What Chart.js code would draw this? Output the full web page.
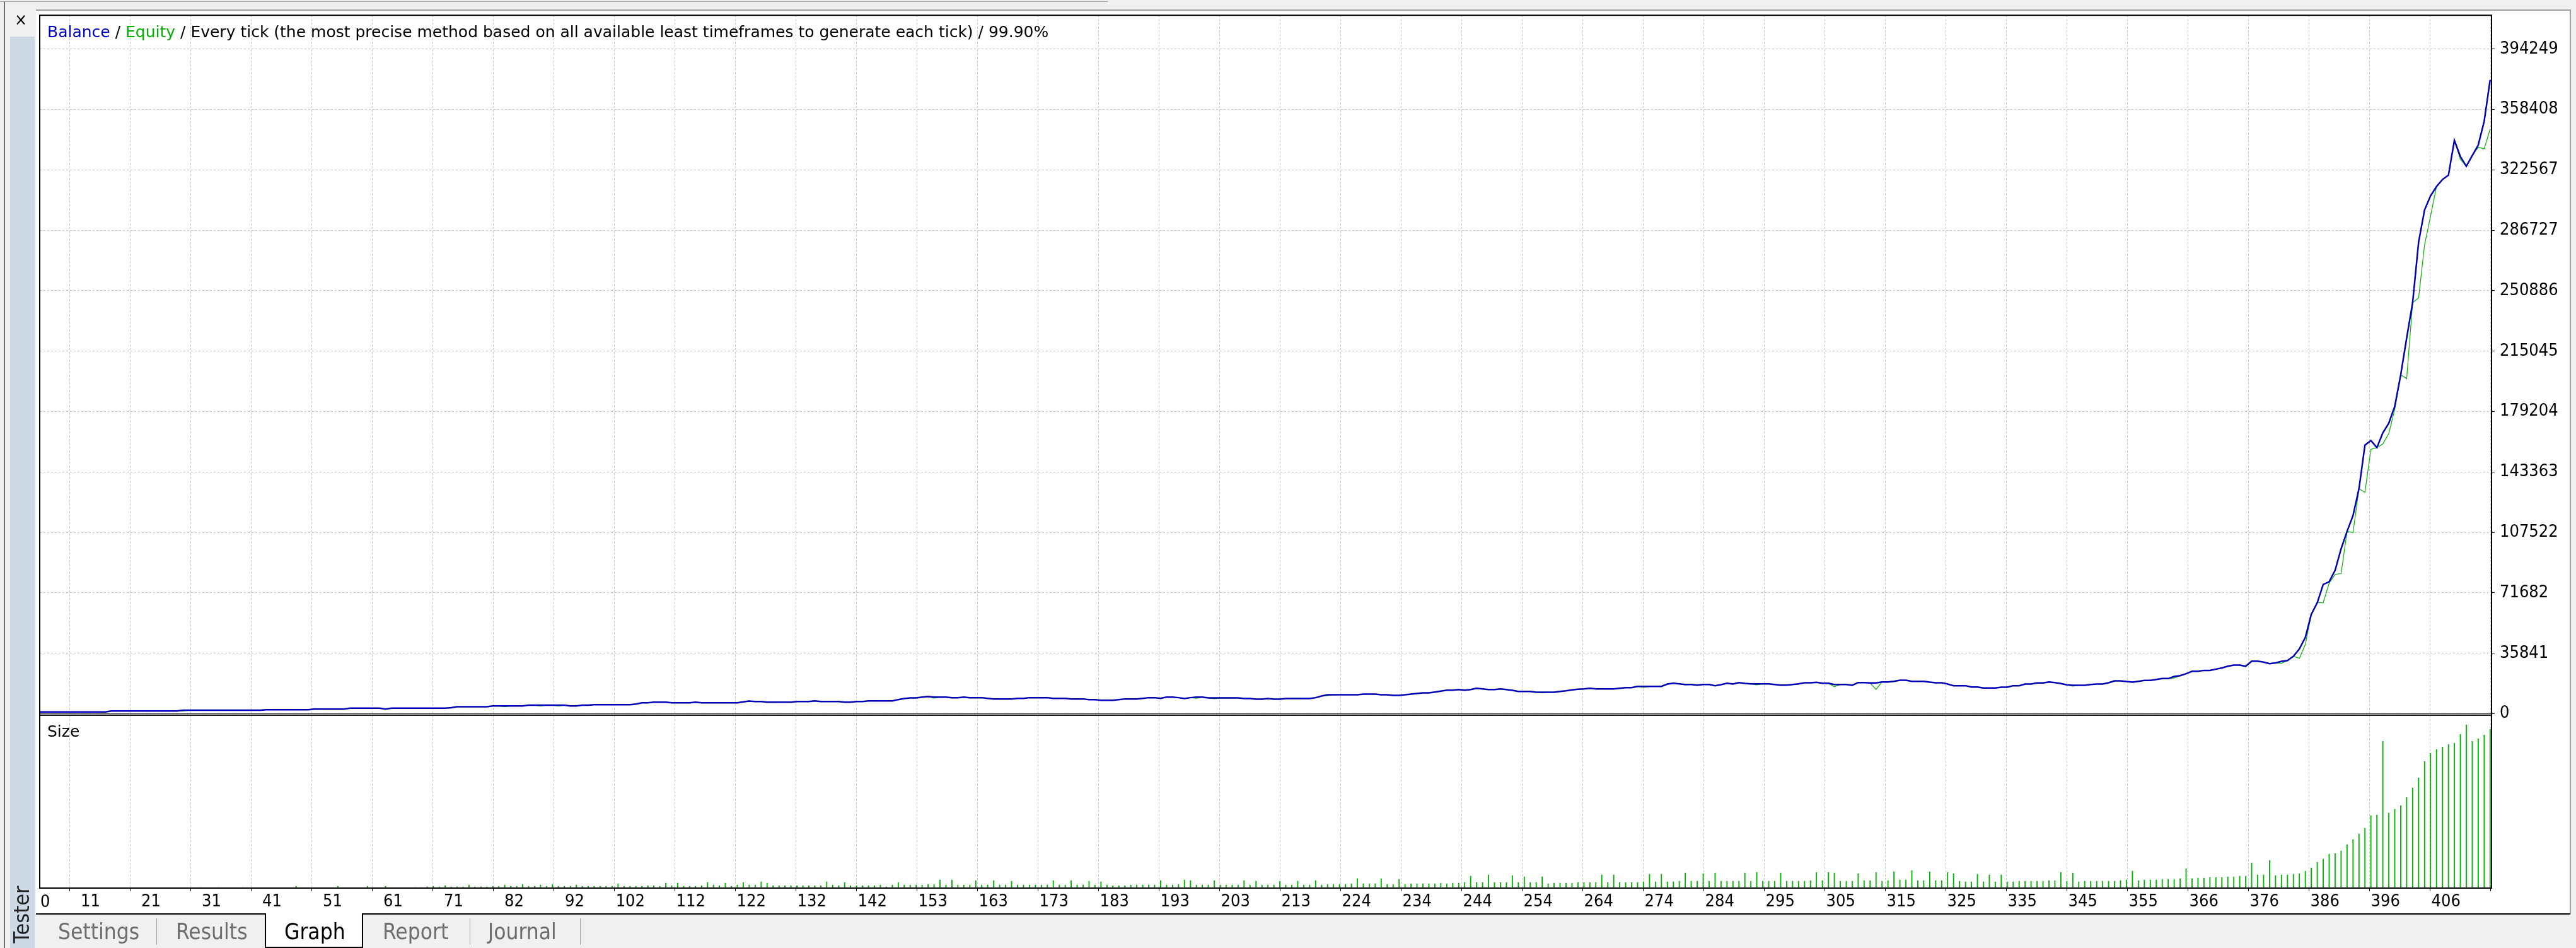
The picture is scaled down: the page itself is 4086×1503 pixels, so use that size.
<!DOCTYPE html>
<html>
<head>
<meta charset="utf-8">
<title>Tester - Graph</title>
<script src="https://cdn.jsdelivr.net/npm/chart.js@4.4.1/dist/chart.umd.min.js"></script>
<style>
  html, body { margin: 0; padding: 0; background: #f0f0f0; overflow: hidden; }
  canvas { display: block; }
</style>
</head>
<body>
<canvas id="graph" width="4086" height="1503"></canvas>
<script>
const FONT = "Tahoma, 'DejaVu Sans Condensed', 'Liberation Sans', sans-serif";
const TITLE_FONT = "Verdana, 'DejaVu Sans', sans-serif";

// balance after each trade, trade 0 = deposit
const balance = [
  1000, 1000, 1000, 1000, 1000, 1000, 1000, 1000, 1000, 1000,
  1000, 1000, 1600, 1600, 1600, 1600, 1600, 1600, 1600, 1600,
  1600, 1600, 1600, 1600, 2000, 2000, 2000, 2000, 2000, 2000,
  2000, 2000, 2000, 2000, 2000, 2000, 2000, 2000, 2350, 2350,
  2350, 2350, 2350, 2350, 2350, 2350, 2700, 2700, 2700, 2700,
  2700, 2700, 3250, 3250, 3250, 3250, 3250, 3250, 2700, 3250,
  3250, 3250, 3250, 3250, 3250, 3250, 3250, 3250, 3250, 3500,
  4100, 4100, 4100, 4100, 4100, 4100, 4600, 4600, 4600, 4600,
  4600, 4600, 5000, 5000, 5000, 5000, 5000, 5000, 5000, 4600,
  4600, 5000, 5000, 5300, 5300, 5300, 5300, 5300, 5300, 5300,
  5720, 6460, 6460, 6840, 6840, 6840, 6460, 6460, 6460, 6460,
  6840, 6460, 6460, 6460, 6460, 6460, 6460, 6460, 6990, 7470,
  7220, 7220, 6840, 6840, 6840, 6840, 6840, 7220, 7220, 7220,
  7590, 7220, 7220, 7220, 7220, 6840, 6840, 7220, 7220, 7590,
  7590, 7590, 7590, 7590, 8340, 8970, 9340, 9340, 9840, 10200,
  9840, 9840, 9840, 9470, 9470, 9840, 9470, 9470, 9470, 9090,
  8720, 8720, 8720, 8720, 9090, 9090, 9470, 9470, 9470, 9470,
  9090, 9090, 9090, 8720, 8720, 8720, 8340, 8340, 7970, 7970,
  7970, 8340, 8720, 8720, 8720, 9090, 9470, 9470, 9030, 9840,
  9840, 9470, 8970, 9470, 9840, 9840, 9340, 9340, 9340, 9340,
  9340, 9340, 8970, 8970, 8600, 8600, 8970, 8600, 8600, 8970,
  8970, 8970, 8970, 8970, 9470, 10460, 11210, 11210, 11210, 11210,
  11210, 11210, 11580, 11580, 11580, 11210, 11210, 10840, 10840, 11210,
  11580, 11960, 12330, 12330, 12820, 13340, 13940, 13940, 14310, 13940,
  14310, 15060, 14700, 14310, 14310, 14700, 14310, 13820, 13200, 13200,
  13200, 12700, 12700, 12700, 12700, 13200, 13570, 14070, 14440, 14700,
  15060, 14700, 14700, 14700, 14700, 15060, 15440, 15440, 16190, 16190,
  16190, 16190, 16190, 17560, 18060, 17680, 17310, 17310, 16930, 17310,
  17310, 16570, 17190, 18060, 17560, 18430, 17940, 17680, 17680, 17680,
  17680, 17310, 16930, 16930, 17310, 17680, 18310, 18310, 18560, 18060,
  18060, 17310, 17310, 17310, 16810, 18430, 18430, 18190, 18190, 18810,
  18810, 19180, 19810, 19810, 19180, 19180, 19180, 18680, 18310, 18310,
  17560, 16570, 16570, 16570, 15810, 15810, 15190, 15190, 15190, 15690,
  15690, 16570, 16570, 17560, 17560, 18190, 18190, 18810, 18430, 17810,
  17060, 16810, 16810, 16810, 17310, 17560, 17560, 18310, 19430, 19430,
  19060, 18680, 19180, 19680, 19680, 20310, 20810, 20810, 22050, 22500,
  23700, 25100, 25100, 25650, 25650, 26400, 27100, 28100, 28780, 28780,
  28100, 31080, 31080, 30580, 29640, 30100, 31000, 31500, 34010, 38370,
  45220, 58920, 65770, 76610, 78220, 85090, 97800, 108150, 117490, 133400,
  159250, 162000, 157800, 166500, 172300, 182300, 201000, 222870, 243800, 279680,
  298810, 307140, 312640, 316820, 319330, 340030, 330500, 324670, 331020, 337190,
  351350, 375930
];

// trades where equity fell below balance, and the equity read there
const equityTrades = [24, 78, 84, 87, 150, 194, 197, 216, 252, 269, 276, 288, 301, 308, 341, 358, 376,
  379, 380, 383, 384, 385, 386, 388, 390, 391, 393, 394, 395, 397, 399, 400, 401, 406, 409, 410, 411];
const equityValues = [1500, 4100, 4470, 4470, 9230, 9100, 8850, 10710, 12330, 15560, 17060, 17060, 15940, 14320, 16320, 21180, 29880,
  32770, 41000, 65770, 77500, 82590, 83110, 107400, 131320, 156730, 160000, 166200, 180500, 198700, 246600, 277960, 295150, 328860, 336000, 335020, 346680];

// lot size of each trade
const sizes = [
  0.004, 0.004, 0.004, 0.004, 0.004, 0.004, 0.004, 0.004, 0.004, 0.004,
  0.004, 0.004, 0.004, 0.004, 0.004, 0.004, 0.004, 0.004, 0.004, 0.004,
  0.004, 0.004, 0.004, 0.004, 0.004, 0.004, 0.004, 0.01, 0.004, 0.004,
  0.01, 0.004, 0.004, 0.004, 0.01, 0.004, 0.004, 0.004, 0.004, 0.004,
  0.004, 0.004, 0.004, 0.03, 0.004, 0.004, 0.004, 0.004, 0.004, 0.004,
  0.03, 0.004, 0.004, 0.004, 0.004, 0.03, 0.004, 0.004, 0.03, 0.004,
  0.004, 0.004, 0.004, 0.01, 0.01, 0.02, 0.03, 0.02, 0.04, 0.02,
  0.02, 0.02, 0.05, 0.02, 0.02, 0.02, 0.03, 0.03, 0.05, 0.03,
  0.03, 0.06, 0.03, 0.03, 0.05, 0.03, 0.06, 0.03, 0.03, 0.03,
  0.05, 0.03, 0.03, 0.03, 0.03, 0.03, 0.03, 0.07, 0.03, 0.03,
  0.03, 0.03, 0.04, 0.04, 0.03, 0.08, 0.04, 0.08, 0.03, 0.03,
  0.03, 0.04, 0.09, 0.05, 0.04, 0.08, 0.03, 0.05, 0.09, 0.05,
  0.05, 0.10, 0.08, 0.04, 0.04, 0.04, 0.04, 0.04, 0.04, 0.04,
  0.04, 0.04, 0.10, 0.05, 0.04, 0.09, 0.04, 0.04, 0.04, 0.04,
  0.04, 0.05, 0.02, 0.05, 0.09, 0.05, 0.05, 0.05, 0.05, 0.06,
  0.06, 0.13, 0.05, 0.13, 0.05, 0.05, 0.05, 0.12, 0.05, 0.05,
  0.12, 0.05, 0.05, 0.11, 0.05, 0.05, 0.05, 0.05, 0.05, 0.05,
  0.12, 0.05, 0.05, 0.12, 0.05, 0.05, 0.11, 0.05, 0.10, 0.05,
  0.04, 0.04, 0.04, 0.05, 0.05, 0.05, 0.05, 0.05, 0.12, 0.05,
  0.05, 0.06, 0.13, 0.12, 0.05, 0.05, 0.05, 0.12, 0.05, 0.05,
  0.05, 0.05, 0.12, 0.05, 0.11, 0.05, 0.05, 0.05, 0.11, 0.05,
  0.05, 0.11, 0.05, 0.05, 0.12, 0.05, 0.06, 0.06, 0.06, 0.06,
  0.07, 0.15, 0.07, 0.07, 0.07, 0.15, 0.06, 0.06, 0.14, 0.06,
  0.07, 0.07, 0.07, 0.07, 0.07, 0.08, 0.07, 0.08, 0.08, 0.09,
  0.19, 0.09, 0.09, 0.21, 0.09, 0.09, 0.09, 0.20, 0.09, 0.18,
  0.09, 0.09, 0.18, 0.07, 0.08, 0.08, 0.08, 0.08, 0.09, 0.09,
  0.09, 0.09, 0.21, 0.09, 0.21, 0.09, 0.09, 0.09, 0.09, 0.10,
  0.22, 0.10, 0.22, 0.10, 0.10, 0.11, 0.24, 0.11, 0.11, 0.23,
  0.11, 0.24, 0.11, 0.11, 0.11, 0.11, 0.24, 0.11, 0.25, 0.11,
  0.11, 0.11, 0.24, 0.11, 0.11, 0.11, 0.11, 0.12, 0.25, 0.12,
  0.25, 0.24, 0.11, 0.11, 0.11, 0.23, 0.12, 0.12, 0.25, 0.11,
  0.12, 0.26, 0.13, 0.13, 0.28, 0.12, 0.12, 0.26, 0.12, 0.12,
  0.25, 0.23, 0.11, 0.10, 0.10, 0.22, 0.10, 0.21, 0.10, 0.21,
  0.10, 0.10, 0.11, 0.11, 0.11, 0.11, 0.11, 0.12, 0.12, 0.25,
  0.11, 0.24, 0.10, 0.11, 0.11, 0.11, 0.11, 0.11, 0.11, 0.12,
  0.13, 0.27, 0.12, 0.13, 0.13, 0.13, 0.14, 0.14, 0.14, 0.15,
  0.31, 0.15, 0.16, 0.16, 0.17, 0.17, 0.17, 0.18, 0.18, 0.19,
  0.19, 0.40, 0.21, 0.21, 0.44, 0.20, 0.21, 0.21, 0.22, 0.23,
  0.27, 0.32, 0.41, 0.46, 0.54, 0.55, 0.59, 0.69, 0.77, 0.86,
  0.95, 1.15, 1.16, 2.33, 1.19, 1.25, 1.31, 1.44, 1.59, 1.75,
  2.01, 2.14, 2.20, 2.24, 2.28, 2.30, 2.44, 2.59, 2.33, 2.37,
  2.43, 2.52
];

const yTickLabels = ['0', '35841', '71682', '107522', '143363', '179204', '215045',
  '250886', '286727', '322567', '358408', '394249'];
const xTickLabels = ['0', '11', '21', '31', '41', '51', '61', '71', '82', '92', '102', '112',
  '122', '132', '142', '153', '163', '173', '183', '193', '203', '213', '224', '234', '244',
  '254', '264', '274', '284', '295', '305', '315', '325', '335', '345', '355', '366', '376',
  '386', '396', '406'];
const tabs = ['Settings', 'Results', 'Graph', 'Report', 'Journal'];
const activeTab = 'Graph';

const yMax = 414240;       // top of the balance pane
const sizeMax = 2.77;      // top of the size pane
const tradesPerGrid = 10.151;
const xMax = 411.23;

const equity = balance.slice();
equityTrades.forEach((t, i) => { equity[t] = equityValues[i]; });

// window chrome of the terminal around the chart
const chrome = {
  id: 'chrome',
  beforeDraw(chart) {
    const ctx = chart.ctx;
    ctx.save();
    ctx.fillStyle = '#f0f0f0';
    ctx.fillRect(0, 0, chart.width, chart.height);
    ctx.fillStyle = '#6e6e6e';
    ctx.fillRect(6, 3, 2, chart.height - 3);
    ctx.fillStyle = '#a0a0a0';
    ctx.fillRect(0, 2, 1757, 1);
    ctx.fillStyle = '#cdd9e5';
    ctx.fillRect(16, 58, 39, chart.height - 58);
    ctx.fillStyle = '#ffffff';
    ctx.fillRect(57, 15, 4020, 1434);
    ctx.fillStyle = '#a0a0a0';
    ctx.fillRect(57, 15, 4020, 2);
    ctx.fillRect(4076, 15, 2, 1434);
    ctx.restore();
  },
  afterDraw(chart) {
    const ctx = chart.ctx;
    const a = chart.chartArea;
    const main = chart.scales.y;
    ctx.save();
    // pane frames
    ctx.strokeStyle = '#000';
    ctx.lineWidth = 2;
    ctx.strokeRect(a.left, a.top, a.right - a.left, a.bottom - a.top);
    ctx.lineWidth = 1.2;
    ctx.beginPath();
    ctx.moveTo(a.left, main.bottom + 0.5);
    ctx.lineTo(a.right, main.bottom + 0.5);
    ctx.moveTo(a.left, main.bottom + 3);
    ctx.lineTo(a.right, main.bottom + 3);
    ctx.stroke();

    // title line
    ctx.font = '25px ' + TITLE_FONT;
    ctx.textBaseline = 'alphabetic';
    let x = a.left + 12;
    [['Balance', '#0000c8'], [' / ', '#000'], ['Equity', '#00b000'],
     [' / Every tick (the most precise method based on all available least timeframes to generate each tick) / 99.90%', '#000']]
      .forEach(([t, c]) => { ctx.fillStyle = c; ctx.fillText(t, x, a.top + 35); x += ctx.measureText(t).width; });
    ctx.fillStyle = '#000';
    ctx.fillText('Size', a.left + 12, main.bottom + 37);

    // first x label sits right of its tick
    ctx.font = '27px ' + FONT;
    ctx.textBaseline = 'middle';
    ctx.fillText(xTickLabels[0], a.left + 1, a.bottom + 23);

    // close button and side caption
    ctx.font = '26px ' + FONT;
    ctx.textAlign = 'center';
    ctx.fillText('\u00d7', 33, 33);
    ctx.save();
    ctx.translate(37, 1450);
    ctx.rotate(-Math.PI / 2);
    ctx.font = '34px ' + FONT;
    ctx.fillStyle = '#222';
    ctx.fillText('Tester', 0, 0);
    ctx.restore();

    // tab strip
    ctx.fillStyle = '#000';
    ctx.fillRect(57, 1448, 4020, 2);
    const tabX = [57, 248, 420, 576, 745, 920];
    const textX = [92, 279, 451, 607, 774];
    tabs.forEach((t, i) => {
      const l = tabX[i], r = tabX[i + 1];
      if (t === activeTab) {
        ctx.fillStyle = '#fff';
        ctx.fillRect(l, 1448, r - l, 54);
        ctx.strokeStyle = '#000';
        ctx.lineWidth = 2;
        ctx.beginPath();
        ctx.moveTo(l + 1, 1448); ctx.lineTo(l + 1, 1502); ctx.lineTo(r - 1, 1502); ctx.lineTo(r - 1, 1448);
        ctx.stroke();
      } else if (i > 0 && tabs[i - 1] !== activeTab) {
        ctx.fillStyle = '#a0a0a0';
        ctx.fillRect(l, 1456, 1, 42);
      }
      if (i === tabs.length - 1) { ctx.fillStyle = '#a0a0a0'; ctx.fillRect(r, 1456, 1, 42); }
      ctx.font = '35px ' + FONT;
      ctx.textAlign = 'left';
      ctx.textBaseline = 'alphabetic';
      ctx.fillStyle = t === activeTab ? '#000' : '#6d6d6d';
      ctx.fillText(t, textX[i], 1489);
    });
    ctx.restore();
  }
};

new Chart(document.getElementById('graph'), {
  type: 'line',
  data: {
    datasets: [
      {
        label: 'Balance',
        data: balance.map((v, i) => ({ x: i, y: v })),
        yAxisID: 'y',
        borderColor: '#0000b4',
        borderWidth: 2.5,
        pointRadius: 0,
        tension: 0
      },
      {
        label: 'Equity',
        data: equity.map((v, i) => ({ x: i, y: v })),
        yAxisID: 'y',
        borderColor: '#00b400',
        borderWidth: 1.2,
        pointRadius: 0,
        tension: 0
      },
      {
        type: 'bar',
        label: 'Size',
        data: sizes.map((v, i) => ({ x: i, y: v })),
        yAxisID: 'ySize',
        backgroundColor: '#00b400',
        barThickness: 1.2
      }
    ]
  },
  options: {
    responsive: false,
    animation: false,
    devicePixelRatio: 1,
    events: [],
    layout: { padding: { left: 63, top: 22, right: 0, bottom: 0 } },
    plugins: { legend: { display: false }, tooltip: { enabled: false } },
    scales: {
      x: {
        type: 'linear',
        min: 0,
        max: xMax,
        offset: false,
        afterBuildTicks: s => { s.ticks = xTickLabels.map((t, k) => ({ value: k * tradesPerGrid })); },
        afterFit: s => { s.height = 95; },
        grid: { color: '#c4c4c4', lineWidth: 1, tickLength: 5, tickColor: '#000', tickWidth: 1 },
        border: { display: false, dash: [3, 3] },
        ticks: {
          align: 'end', autoSkip: false, maxRotation: 0, padding: 1, color: '#000',
          font: { family: FONT, size: 27 },
          callback: (v, i) => (i === 0 ? '' : xTickLabels[i])
        }
      },
      y: {
        position: 'right',
        stack: 'panes',
        stackWeight: 1109,
        min: 0,
        max: yMax,
        afterBuildTicks: s => { s.ticks = yTickLabels.map(t => ({ value: Number(t) })); },
        afterFit: s => { s.width = 134; },
        grid: { color: '#c4c4c4', lineWidth: 1, tickLength: 5, tickColor: '#000', tickWidth: 1 },
        border: { display: false, dash: [3, 3] },
        ticks: {
          autoSkip: false, padding: 8, color: '#000',
          font: { family: FONT, size: 27 },
          callback: (v, i) => yTickLabels[i]
        }
      },
      ySize: {
        position: 'right',
        stack: 'panes',
        stackWeight: 277,
        min: 0,
        max: sizeMax,
        afterFit: s => { s.width = 134; },
        grid: { display: false },
        border: { display: false },
        ticks: { display: false }
      }
    }
  },
  plugins: [chrome]
});
</script>
</body>
</html>
